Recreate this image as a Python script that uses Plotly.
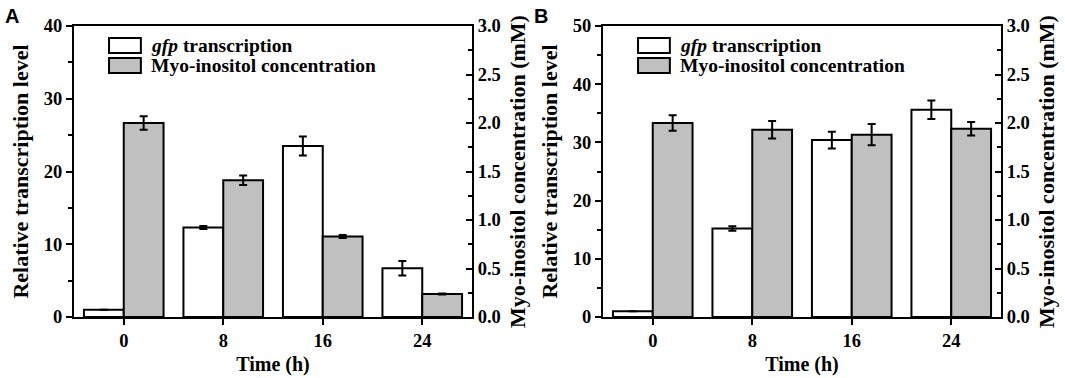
import plotly.graph_objects as go

# ---------------- data ----------------
time_h = [0, 8, 16, 24]

# Panel A
a_gfp = [1.0, 12.3, 23.5, 6.7]
a_gfp_err = [0.0, 0.2, 1.3, 1.0]
a_myo = [2.00, 1.41, 0.83, 0.237]
a_myo_err = [0.07, 0.05, 0.015, 0.006]

# Panel B
b_gfp = [1.0, 15.2, 30.4, 35.6]
b_gfp_err = [0.0, 0.4, 1.45, 1.6]
b_myo = [2.00, 1.93, 1.88, 1.94]
b_myo_err = [0.08, 0.09, 0.11, 0.07]

left_ticks_a = [0, 10, 20, 30, 40]
left_ticks_b = [0, 10, 20, 30, 40, 50]
right_ticks = [0.0, 0.5, 1.0, 1.5, 2.0, 2.5, 3.0]
right_tick_text = ["0.0", "0.5", "1.0", "1.5", "2.0", "2.5", "3.0"]

series_names = ["<i>gfp</i> transcription", "Myo-inositol concentration"]

# ---------------- style ----------------
SERIF = "Liberation Serif, Times New Roman, serif"
GRAY = "#C0C0C0"
BAR_W = 3.2
W, H = 1065, 378

fig = go.Figure()

def add_panel(xa, yl, yr, gfp, gfp_err, myo, myo_err):
    fig.add_trace(go.Bar(
        x=time_h, y=gfp, width=BAR_W, offset=-BAR_W,
        marker=dict(color="white", line=dict(color="black", width=2)),
        error_y=dict(type="data", array=gfp_err, color="black", thickness=2, width=4),
        xaxis=xa, yaxis=yl, showlegend=False, name="gfp transcription"))
    fig.add_trace(go.Bar(
        x=time_h, y=myo, width=BAR_W, offset=0,
        marker=dict(color=GRAY, line=dict(color="black", width=2)),
        error_y=dict(type="data", array=myo_err, color="black", thickness=2, width=4),
        xaxis=xa, yaxis=yr, showlegend=False, name="Myo-inositol concentration"))

add_panel("x", "y", "y2", a_gfp, a_gfp_err, a_myo, a_myo_err)
add_panel("x2", "y3", "y4", b_gfp, b_gfp_err, b_myo, b_myo_err)

tickfont = dict(family=SERIF, size=18.5, color="black", weight="bold")
titlefont = dict(family=SERIF, size=20, color="black", weight="bold")
ytitlefont = dict(family=SERIF, size=22, color="black", weight="bold")

ydom = [1 - 317 / H, 1 - 26 / H]
xdomA = [74 / W, 472 / W]
xdomB = [603 / W, 1001 / W]

def xaxis_cfg(dom, anchor):
    return dict(domain=dom, anchor=anchor, range=[-4, 28], tickvals=time_h,
                ticks="outside", ticklen=6, tickwidth=2, tickcolor="black",
                showline=True, linecolor="black", linewidth=2, mirror=True,
                showgrid=False, zeroline=False, tickfont=tickfont,
                title=dict(text="Time (h)", font=titlefont, standoff=7),
                automargin=False)

def yleft_cfg(anchor, rng, ticks, dminor):
    return dict(domain=ydom, anchor=anchor, range=rng, tickvals=ticks,
                ticks="outside", ticklen=6, tickwidth=2, tickcolor="black",
                minor=dict(ticks="outside", ticklen=4, tickwidth=2, dtick=dminor,
                           tickcolor="black", showgrid=False),
                showline=True, linecolor="black", linewidth=2,
                showgrid=False, zeroline=False, tickfont=tickfont,
                title=dict(text="Relative transcription level", font=ytitlefont, standoff=9),
                automargin=False)

def yright_cfg(overlay, anchor):
    return dict(overlaying=overlay, anchor=anchor, side="right", range=[0, 3.0],
                tickvals=right_ticks, ticktext=right_tick_text,
                ticks="inside", ticklen=6, tickwidth=2, tickcolor="black",
                minor=dict(ticks="inside", ticklen=4, tickwidth=2, dtick=0.25,
                           tickcolor="black", showgrid=False),
                showline=True, linecolor="black", linewidth=2,
                showgrid=False, zeroline=False, tickfont=tickfont,
                ticklabelstandoff=0,
                title=dict(text="Myo-inositol concentration (mM)", font=ytitlefont, standoff=10),
                automargin=False)

fig.update_layout(
    width=W, height=H,
    margin=dict(l=0, r=0, t=0, b=0),
    paper_bgcolor="white", plot_bgcolor="white",
    barmode="overlay",
    showlegend=False,
    xaxis=xaxis_cfg(xdomA, "y"),
    yaxis=yleft_cfg("x", [0, 40], left_ticks_a, 5),
    yaxis2=yright_cfg("y", "x"),
    xaxis2=xaxis_cfg(xdomB, "y3"),
    yaxis3=yleft_cfg("x2", [0, 50], left_ticks_b, 5),
    yaxis4=yright_cfg("y3", "x2"),
)

# custom legends (boxes + labels) inside each panel
legend_font = dict(family=SERIF, size=19.5, color="black", weight="bold")
for xa, ya in [("x", "y"), ("x2", "y3")]:
    xref = f"{xa} domain"
    yref = f"{ya} domain"
    fills = ["white", GRAY]
    tops = [0.9588, 0.890]
    bots = [0.9072, 0.8385]
    for i in range(2):
        fig.add_shape(type="rect", xref=xref, yref=yref,
                      x0=0.088, x1=0.168, y0=bots[i], y1=tops[i],
                      fillcolor=fills[i], line=dict(color="black", width=2))
        fig.add_annotation(xref=xref, yref=yref, x=0.188, y=(tops[i] + bots[i]) / 2,
                           text=series_names[i], showarrow=False,
                           xanchor="left", yanchor="middle", font=legend_font)

# panel letters
for lbl, px in [("A", 3), ("B", 532)]:
    fig.add_annotation(xref="paper", yref="paper", x=px / W, y=1 - 3 / H,
                       text=lbl, showarrow=False, xanchor="left", yanchor="top",
                       font=dict(family="Liberation Sans, Arial, sans-serif", size=20,
                                 color="black", weight="bold"))

fig.write_html("out.html", config={"displayModeBar": False},
               post_script="document.body.style.margin='0px';")
